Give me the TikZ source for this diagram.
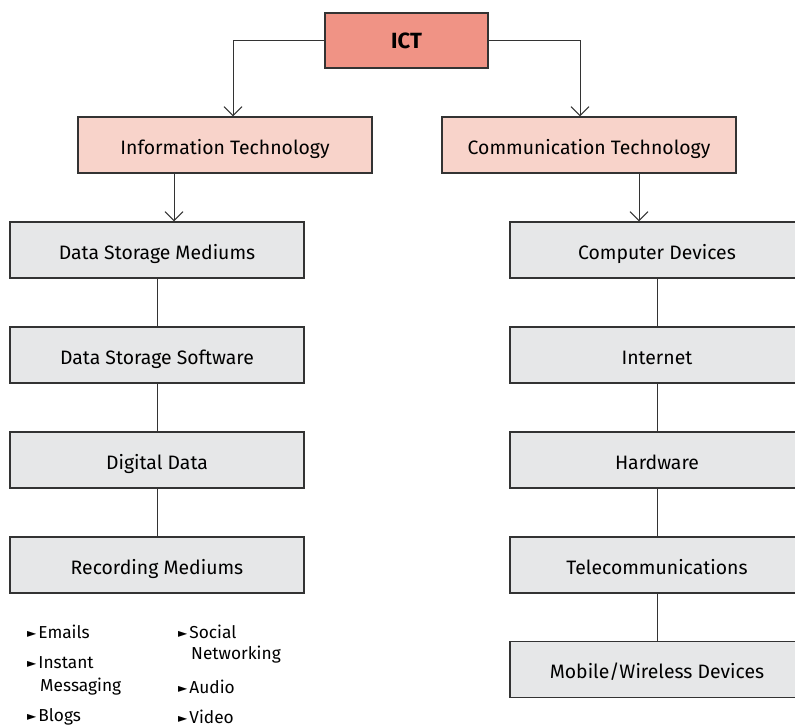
\documentclass[tikz,border=0pt]{standalone}
\usepackage{fontspec}
\setmainfont{Fira Sans}
\newfontfamily\symfont{DejaVu Sans}
\usetikzlibrary{arrows.meta}
\definecolor{ictred}{HTML}{F09385}
\definecolor{techpink}{HTML}{F8D3CA}
\definecolor{boxgrey}{HTML}{E6E7E8}
\definecolor{lineg}{HTML}{333333}
\newcommand{\bul}{\raisebox{1pt}{\symfont\fontsize{12}{12}\selectfont ►}\hspace{2pt}}
\begin{document}
\begin{tikzpicture}[x=1pt,y=1pt,
  box/.style={draw=lineg, line width=1.2pt, rectangle, minimum width=294pt, minimum height=56pt, inner sep=0pt, font=\fontsize{19.4}{21}\selectfont},
  grey/.style={box, fill=boxgrey, text height=18.4pt, text depth=0pt},
  tech/.style={box, fill=techpink, text height=18.4pt, text depth=0pt},
  item/.style={anchor=west, inner sep=0pt, align=left, font=\fontsize{17.3}{25}\selectfont},
  arr/.style={draw=lineg, line width=1pt, -{Straight Barb[length=9pt,width=18pt]}},
  link/.style={draw=lineg, line width=1pt}]
\useasboundingbox (0,0) rectangle (795,-727);
\begin{scope}
\clip (0,0) rectangle (795,-727);
% top
\node[box, fill=ictred, minimum width=163pt, minimum height=55pt, font=\fontsize{22}{24}\selectfont\bfseries] (ict) at (406.5,-40.5) {ICT};
\node[tech] (info) at (225,-145) {Information Technology};
\node[tech] (comm) at (589,-145) {Communication Technology};
% left column
\node[grey] (dsm) at (157,-250) {Data Storage Mediums};
\node[grey] (dss) at (157,-355) {Data Storage Software};
\node[grey] (dd) at (157,-460) {Digital Data};
\node[grey] (rm) at (157,-565) {Recording Mediums};
% right column
\node[grey] (cd) at (657,-250) {Computer Devices};
\node[grey] (inet) at (657,-355) {Internet};
\node[grey] (hw) at (657,-460) {Hardware};
\node[grey] (tel) at (657,-565) {Telecommunications};
\node[grey] (mob) at (657,-669.5) {Mobile/Wireless Devices};
% arrows
\draw[arr] (ict.west) -| ([xshift=8pt]info.north);
\draw[arr] (ict.east) -| ([xshift=-9pt]comm.north);
\draw[arr] ([xshift=-51pt]info.south) -- ([xshift=17pt]dsm.north);
\draw[arr] ([xshift=50pt]comm.south) -- ([xshift=-18pt]cd.north);
\foreach \a/\b in {dsm/dss,dss/dd,dd/rm,cd/inet,inet/hw,hw/tel,tel/mob}
  \draw[link] (\a) -- (\b);
\end{scope}
% media list
\node[item] (emails) at (27,-632) {\bul Emails};
\node[item] (instant) at (27,-663) {\bul Instant};
\node[item] (msg) at (40,-687) {Messaging};
\node[item] (blogs) at (27,-717) {\bul Blogs};
\node[item] (social) at (178,-632) {\bul Social};
\node[item] (netw) at (191,-655) {Networking};
\node[item] (audio) at (178,-687) {\bul Audio};
\node[item] (video) at (178,-717) {\bul Video};
\end{tikzpicture}
\end{document}
